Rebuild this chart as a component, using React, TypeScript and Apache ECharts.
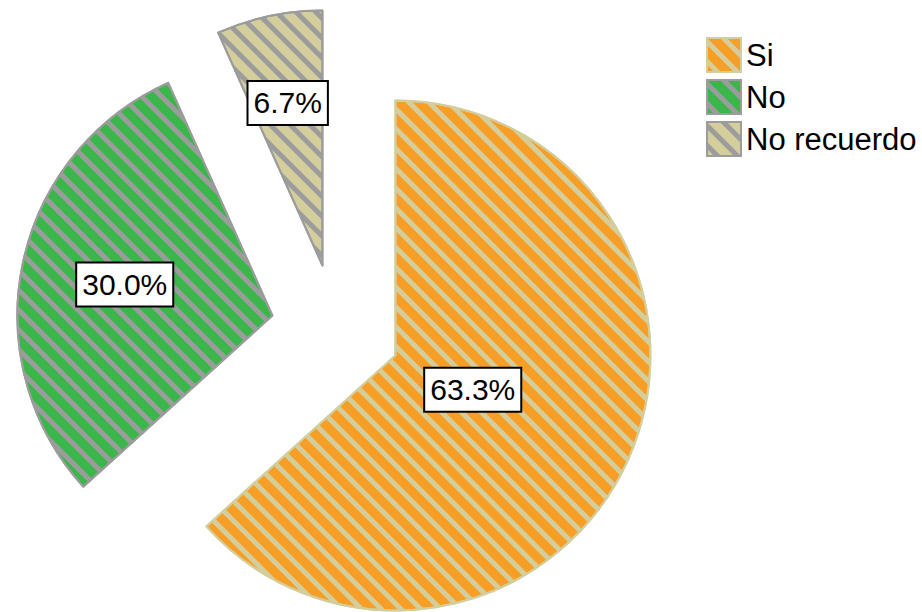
import React, { useEffect, useRef } from 'react';
import * as echarts from 'echarts';

const categories = ['Si', 'No', 'No recuerdo'];
const percentages = [63.3, 30.0, 6.7];
const fillColors = ['#F79E27', '#3BB64A', '#D4CE9C'];
const stripeColors = ['#D4CE9C', '#9C9C9C', '#9C9C9C'];
const borderColors = ['#D4CE9C', '#9C9C9C', '#9C9C9C'];
// label distance from each exploded slice's tip, as a fraction of the radius
const labelRadialFractions = [0.32, 0.58, 0.64];

const CENTER: [number, number] = [336, 329];
const RADIUS = 255;
const OFFSET = 65;
const FONT = 'Liberation Sans, Arial, sans-serif';

export default function App() {
  const ref = useRef<HTMLDivElement>(null);
  useEffect(() => {
    if (!ref.current) return;
    const chart = echarts.init(ref.current, undefined, { renderer: 'svg' });

    const mainData = categories.map((name, i) => ({
      name,
      value: percentages[i],
      selected: true,
      itemStyle: {
        color: fillColors[i],
        borderColor: borderColors[i],
        borderWidth: 2,
        decal: {
          symbol: 'rect',
          symbolSize: 1,
          dashArrayX: [1, 0],
          dashArrayY: [5, 9],
          rotation: Math.PI / 4,
          color: stripeColors[i],
        },
      },
    }));

    // invisible, non-exploded pies that only carry one label each; an "inside" label sits at
    // half the radius, so each radius is twice the label's distance from the pie centre
    const labelSeries = categories.map((_, li) => ({
      type: 'pie',
      center: CENTER,
      radius: 2 * (OFFSET + labelRadialFractions[li] * RADIUS),
      startAngle: 90,
      clockwise: true,
      silent: true,
      z: 5,
      emphasis: { disabled: true },
      itemStyle: { color: 'rgba(0,0,0,0)', borderWidth: 0, decal: 'none' },
      labelLine: { show: false },
      data: categories.map((name, i) => ({
        name,
        value: percentages[i],
        label: {
          show: i === li,
          position: 'inside',
          formatter: (p: any) => p.value.toFixed(1) + '%',
          fontSize: 30,
          lineHeight: 34,
          fontFamily: FONT,
          color: '#000',
          backgroundColor: '#fff',
          borderColor: '#000',
          borderWidth: 2,
          padding: [4, 5],
        },
      })),
    }));

    chart.setOption({
      animation: false,
      legend: {
        orient: 'vertical',
        left: 701,
        top: 32,
        itemWidth: 34,
        itemHeight: 34,
        itemGap: 6,
        icon: 'rect',
        selectedMode: false,
        textStyle: { fontSize: 31, lineHeight: 34, color: '#000', fontFamily: FONT },
        data: categories,
      },
      series: [
        {
          type: 'pie',
          center: CENTER,
          radius: RADIUS,
          startAngle: 90,
          clockwise: true,
          selectedMode: 'multiple',
          selectedOffset: OFFSET,
          emphasis: { disabled: true },
          label: { show: false },
          labelLine: { show: false },
          data: mainData,
        },
        ...labelSeries,
      ],
    });
    return () => chart.dispose();
  }, []);
  return (
    <div
      ref={ref}
      style={{ position: 'absolute', left: 0, top: 0, width: 922, height: 612, background: '#fff' }}
    />
  );
}
